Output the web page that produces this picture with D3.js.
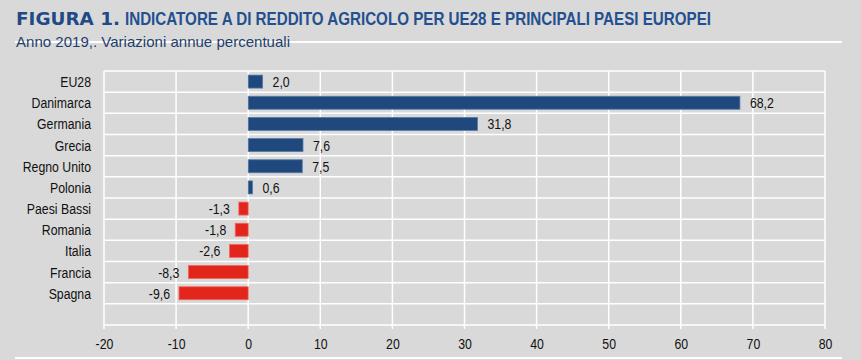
<!DOCTYPE html>
<html><head><meta charset="utf-8">
<script src="https://cdn.jsdelivr.net/npm/d3@7"></script>
<style>
body{margin:0;background:#d9d9d9;}
svg{display:block;}
</style></head>
<body>
<svg id="chart" width="861" height="360"></svg>
<script>
const categories = ["EU28","Danimarca","Germania","Grecia","Regno Unito","Polonia","Paesi Bassi","Romania","Italia","Francia","Spagna"];
const values = [2.0, 68.2, 31.8, 7.6, 7.5, 0.6, -1.3, -1.8, -2.6, -8.3, -9.6];
const tickValues = [-20,-10,0,10,20,30,40,50,60,70,80];
const titleBold = "FIGURA 1.";
const titleRest = "INDICATORE A DI REDDITO AGRICOLO PER UE28 E PRINCIPALI PAESI EUROPEI";
const subtitle = "Anno 2019,. Variazioni annue percentuali";

const svg = d3.select("#chart");
const font = "'Liberation Sans',Arial,sans-serif";
const SX = 0.82;
svg.append("rect").attr("width",861).attr("height",360).attr("fill","#d9d9d9");

// header
svg.append("line").attr("x1",15).attr("x2",842).attr("y1",42).attr("y2",42).attr("stroke","#fff").attr("stroke-width",2);
svg.append("text").attr("x",16).attr("y",25).text(titleBold)
  .attr("font-family","'DejaVu Sans',sans-serif").attr("font-weight","900").attr("font-size",18.5)
  .attr("textLength",104).attr("lengthAdjust","spacingAndGlyphs").attr("fill","#1f4a85");
svg.append("text").attr("x",125).attr("y",25).text(titleRest)
  .attr("font-family",font).attr("font-weight","bold").attr("font-size",18.5)
  .attr("textLength",586).attr("lengthAdjust","spacingAndGlyphs").attr("fill","#24508f");
svg.append("text").attr("x",16).attr("y",46.5).text(subtitle)
  .attr("font-family",font).attr("font-size",15)
  .attr("textLength",274).attr("lengthAdjust","spacingAndGlyphs").attr("fill","#1f3f6e");
svg.append("line").attr("x1",15).attr("x2",842).attr("y1",358).attr("y2",358).attr("stroke","#fff").attr("stroke-width",2);

const x = d3.scaleLinear().domain([-20,80]).range([104,825]);
const bandDomain = categories.concat([""]);
const y = d3.scaleBand().domain(d3.range(bandDomain.length)).range([71,325]);

const g = svg.append("g");
g.selectAll("line.v").data(tickValues).join("line")
  .attr("x1",d=>x(d)).attr("x2",d=>x(d)).attr("y1",71).attr("y2",329)
  .attr("stroke","#fff").attr("stroke-width",1.5);
g.selectAll("line.h").data(d3.range(bandDomain.length+1)).join("line")
  .attr("x1",104).attr("x2",825)
  .attr("y1",d=>d<bandDomain.length?y(d):325).attr("y2",d=>d<bandDomain.length?y(d):325)
  .attr("stroke","#fff").attr("stroke-width",1.5);

function narrowText(sel, xf, yf, anchor){
  sel.attr("transform",(d,i)=>`translate(${xf(d,i)},${yf(d,i)}) scale(${SX},1)`)
     .attr("text-anchor",anchor).attr("font-family",font).attr("font-size",15).attr("fill","#111");
}

// axis labels
const axis = d3.axisBottom(x).tickValues(tickValues).tickSize(0).tickFormat(d=>String(d));
const ax = svg.append("g").attr("transform","translate(0,349)").call(axis);
ax.select(".domain").remove();
ax.selectAll("text").attr("y",0).attr("dy",null)
  .attr("transform",`scale(${SX},1)`)
  .attr("font-family",font).attr("font-size",15).attr("fill","#111");

const bh = 13;
const fmt = v => (v<0?"-":"") + d3.format(".1f")(Math.abs(v)).replace(".",",");
g.selectAll("rect.bar").data(values).join("rect")
  .attr("x",d=>x(Math.min(0,d))).attr("width",d=>Math.abs(x(d)-x(0)))
  .attr("y",(d,i)=>y(i)+(y.bandwidth()-bh)/2).attr("height",bh)
  .attr("fill",d=>d>=0?"#1f497d":"#e3261c")
  .attr("stroke",d=>d>=0?"#5a7aa6":"#ee6a60").attr("stroke-width",0.8);

narrowText(g.selectAll("text.val").data(values).join("text").text(fmt),
  d=>d>=0?x(d)+10:x(d)-9, (d,i)=>y(i)+y.bandwidth()/2+5.5, null);
g.selectAll("text.valtmp");
g.selectAll("text").filter(function(){return false;});
// set anchors for value labels
g.selectAll("text").each(function(d){ if(typeof d==="number") d3.select(this).attr("text-anchor", d>=0?"start":"end"); });

narrowText(g.selectAll("text.cat").data(categories).join("text").attr("class","cat").text(d=>d),
  d=>91, (d,i)=>y(i)+y.bandwidth()/2+5.5, "end");
</script>
</body></html>
